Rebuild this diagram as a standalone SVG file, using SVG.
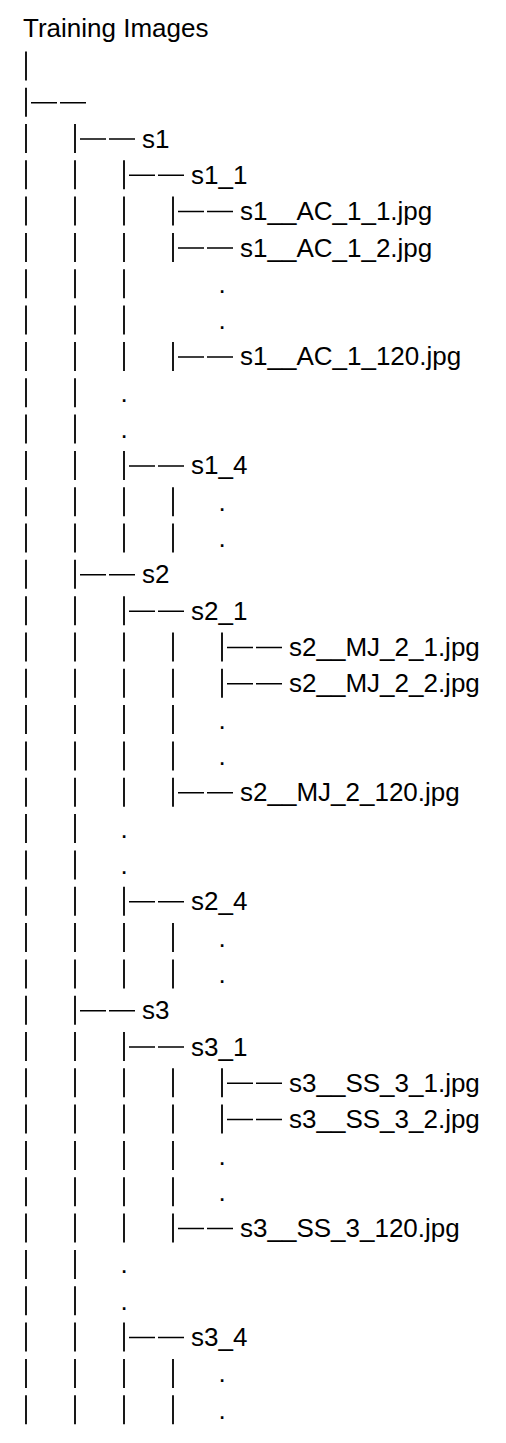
<svg xmlns="http://www.w3.org/2000/svg" width="506" height="1443" viewBox="0 0 506 1443">
<style>
.lbl{font-family:"Liberation Sans",Arial,sans-serif;font-size:26px;fill:#000}
.dot{font-family:"Liberation Sans",Arial,sans-serif;font-size:26px;fill:#000;text-anchor:middle}
.pipe{stroke:#000;stroke-width:1.8;fill:none}
.dash{stroke:#000;stroke-width:1.5;fill:none}
</style>
<rect width="506" height="1443" fill="#fff"/>
<g id="connectors">
<path class="pipe" d="M26 51.4V80.4 M26 87.7V116.7
M26 124V153 M75 124V153
M26 160.3V189.3 M75 160.3V189.3 M124 160.3V189.3
M26 196.6V225.6 M75 196.6V225.6 M124 196.6V225.6 M173 196.6V225.6
M26 233V262 M75 233V262 M124 233V262 M173 233V262
M26 269.3V298.3 M75 269.3V298.3 M124 269.3V298.3
M26 305.6V334.6 M75 305.6V334.6 M124 305.6V334.6
M26 341.9V370.9 M75 341.9V370.9 M124 341.9V370.9 M173 341.9V370.9
M26 378.2V407.2 M75 378.2V407.2
M26 414.6V443.6 M75 414.6V443.6
M26 450.9V479.9 M75 450.9V479.9 M124 450.9V479.9
M26 487.2V516.2 M75 487.2V516.2 M124 487.2V516.2 M173 487.2V516.2
M26 523.5V552.5 M75 523.5V552.5 M124 523.5V552.5 M173 523.5V552.5
M26 559.8V588.8 M75 559.8V588.8
M26 596.2V625.2 M75 596.2V625.2 M124 596.2V625.2
M26 632.5V661.5 M75 632.5V661.5 M124 632.5V661.5 M173 632.5V661.5 M222 632.5V661.5
M26 668.8V697.8 M75 668.8V697.8 M124 668.8V697.8 M173 668.8V697.8 M222 668.8V697.8
M26 705.1V734.1 M75 705.1V734.1 M124 705.1V734.1 M173 705.1V734.1
M26 741.4V770.4 M75 741.4V770.4 M124 741.4V770.4 M173 741.4V770.4
M26 777.8V806.8 M75 777.8V806.8 M124 777.8V806.8 M173 777.8V806.8
M26 814.1V843.1 M75 814.1V843.1
M26 850.4V879.4 M75 850.4V879.4
M26 886.7V915.7 M75 886.7V915.7 M124 886.7V915.7
M26 923V952 M75 923V952 M124 923V952 M173 923V952
M26 959.4V988.4 M75 959.4V988.4 M124 959.4V988.4 M173 959.4V988.4
M26 995.7V1024.7 M75 995.7V1024.7
M26 1032V1061 M75 1032V1061 M124 1032V1061
M26 1068.3V1097.3 M75 1068.3V1097.3 M124 1068.3V1097.3 M173 1068.3V1097.3 M222 1068.3V1097.3
M26 1104.6V1133.6 M75 1104.6V1133.6 M124 1104.6V1133.6 M173 1104.6V1133.6 M222 1104.6V1133.6
M26 1141V1170 M75 1141V1170 M124 1141V1170 M173 1141V1170
M26 1177.3V1206.3 M75 1177.3V1206.3 M124 1177.3V1206.3 M173 1177.3V1206.3
M26 1213.6V1242.6 M75 1213.6V1242.6 M124 1213.6V1242.6 M173 1213.6V1242.6
M26 1249.9V1278.9 M75 1249.9V1278.9
M26 1286.2V1315.2 M75 1286.2V1315.2
M26 1322.6V1351.6 M75 1322.6V1351.6 M124 1322.6V1351.6
M26 1358.9V1387.9 M75 1358.9V1387.9 M124 1358.9V1387.9 M173 1358.9V1387.9
M26 1395.2V1424.2 M75 1395.2V1424.2 M124 1395.2V1424.2 M173 1395.2V1424.2"/>
<path class="dash" d="M31 102.7H57 M60 102.7H86
M80 139H106 M109 139H135
M129 175.3H155 M158 175.3H184
M178 211.6H204 M207 211.6H233
M178 248H204 M207 248H233
M178 356.9H204 M207 356.9H233
M129 465.9H155 M158 465.9H184
M80 574.8H106 M109 574.8H135
M129 611.2H155 M158 611.2H184
M227 647.5H253 M256 647.5H282
M227 683.8H253 M256 683.8H282
M178 792.8H204 M207 792.8H233
M129 901.7H155 M158 901.7H184
M80 1010.7H106 M109 1010.7H135
M129 1047H155 M158 1047H184
M227 1083.3H253 M256 1083.3H282
M227 1119.6H253 M256 1119.6H282
M178 1228.6H204 M207 1228.6H233
M129 1337.6H155 M158 1337.6H184"/>
</g>
<g id="root"><text class="lbl" x="23" y="37">Training Images</text></g>
<g id="s1"><text class="lbl" x="142" y="147.5">s1</text></g>
<g id="s1_1"><text class="lbl" x="191" y="183.8">s1_1</text></g>
<g id="s1_f1"><text class="lbl" x="240" y="220.1">s1__AC_1_1.jpg</text></g>
<g id="s1_f2"><text class="lbl" x="240" y="256.5">s1__AC_1_2.jpg</text></g>
<g id="s1_fd"><text class="dot" x="222" y="292.8">.</text><text class="dot" x="222" y="329.1">.</text></g>
<g id="s1_f120"><text class="lbl" x="240" y="365.4">s1__AC_1_120.jpg</text></g>
<g id="s1_d"><text class="dot" x="124" y="401.7">.</text><text class="dot" x="124" y="438.1">.</text></g>
<g id="s1_4"><text class="lbl" x="191" y="474.4">s1_4</text></g>
<g id="s1_4d"><text class="dot" x="222" y="510.7">.</text><text class="dot" x="222" y="547">.</text></g>
<g id="s2"><text class="lbl" x="142" y="583.3">s2</text></g>
<g id="s2_1"><text class="lbl" x="191" y="619.7">s2_1</text></g>
<g id="s2_f1"><text class="lbl" x="289" y="656">s2__MJ_2_1.jpg</text></g>
<g id="s2_f2"><text class="lbl" x="289" y="692.3">s2__MJ_2_2.jpg</text></g>
<g id="s2_fd"><text class="dot" x="222" y="728.6">.</text><text class="dot" x="222" y="764.9">.</text></g>
<g id="s2_f120"><text class="lbl" x="240" y="801.3">s2__MJ_2_120.jpg</text></g>
<g id="s2_d"><text class="dot" x="124" y="837.6">.</text><text class="dot" x="124" y="873.9">.</text></g>
<g id="s2_4"><text class="lbl" x="191" y="910.2">s2_4</text></g>
<g id="s2_4d"><text class="dot" x="222" y="946.5">.</text><text class="dot" x="222" y="982.9">.</text></g>
<g id="s3"><text class="lbl" x="142" y="1019.2">s3</text></g>
<g id="s3_1"><text class="lbl" x="191" y="1055.5">s3_1</text></g>
<g id="s3_f1"><text class="lbl" x="289" y="1091.8">s3__SS_3_1.jpg</text></g>
<g id="s3_f2"><text class="lbl" x="289" y="1128.1">s3__SS_3_2.jpg</text></g>
<g id="s3_fd"><text class="dot" x="222" y="1164.5">.</text><text class="dot" x="222" y="1200.8">.</text></g>
<g id="s3_f120"><text class="lbl" x="240" y="1237.1">s3__SS_3_120.jpg</text></g>
<g id="s3_d"><text class="dot" x="124" y="1273.4">.</text><text class="dot" x="124" y="1309.7">.</text></g>
<g id="s3_4"><text class="lbl" x="191" y="1346.1">s3_4</text></g>
<g id="s3_4d"><text class="dot" x="222" y="1382.4">.</text><text class="dot" x="222" y="1418.7">.</text></g>
</svg>
